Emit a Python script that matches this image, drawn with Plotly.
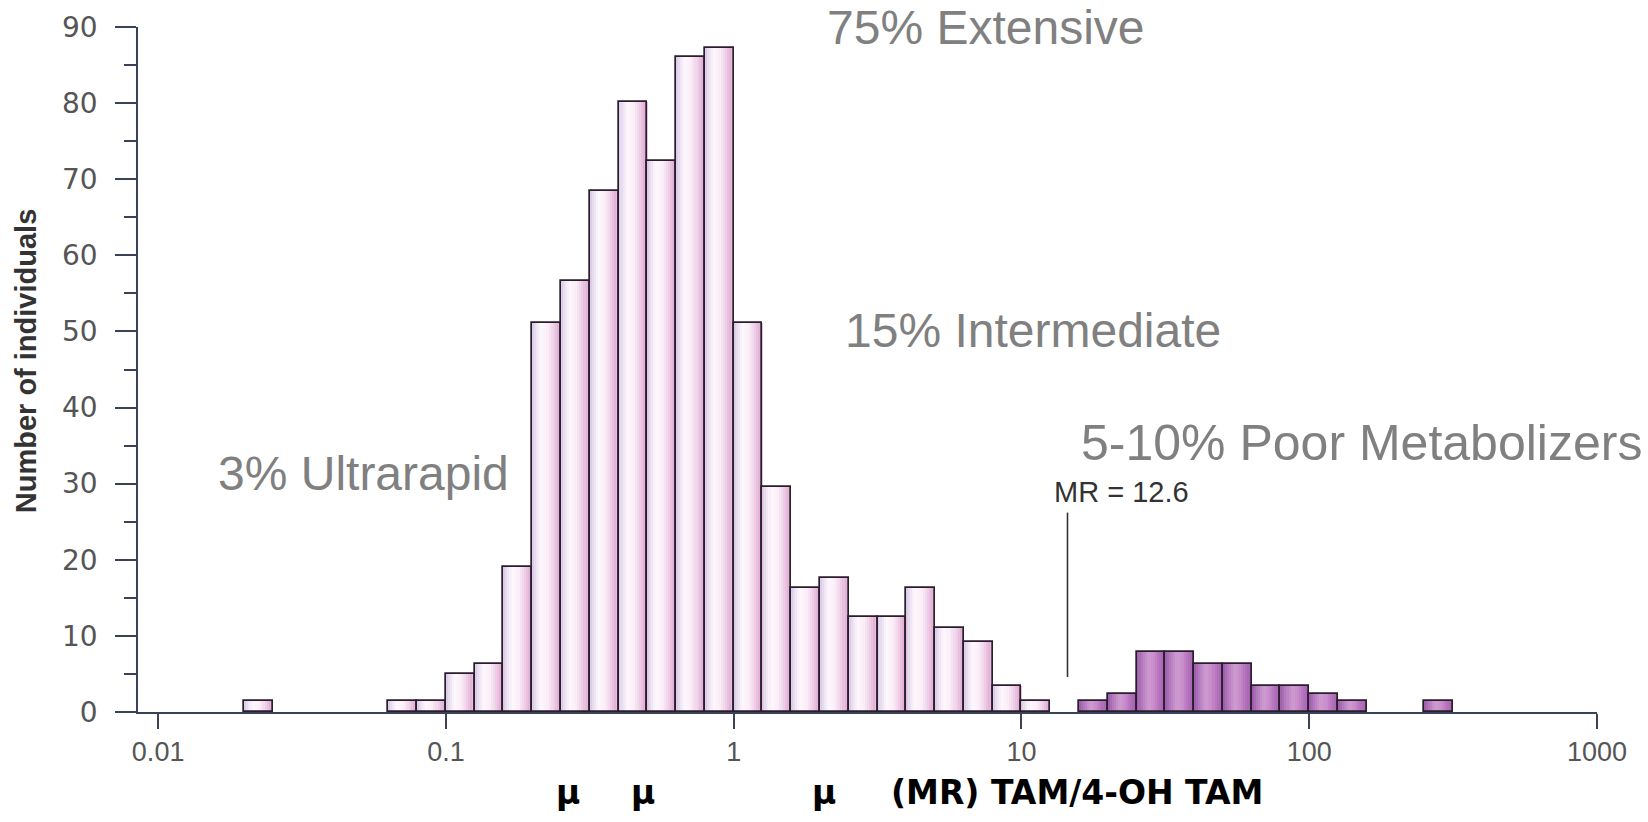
import math
import plotly.graph_objects as go

# ---------------- data ----------------
# histogram bins: lower edge in log10(MR), bin width 0.1 decade
bin_width_log = 0.1
pink_bin_start_log = [-1.7, -1.2, -1.1, -1.0, -0.9, -0.8, -0.7, -0.6, -0.5, -0.4,
                      -0.3, -0.2, -0.1, 0.0, 0.1, 0.2, 0.3, 0.4, 0.5, 0.6,
                      0.7, 0.8, 0.9, 1.0]
pink_counts = [1.5, 1.5, 1.5, 5.0, 6.3, 19.0, 51.1, 56.6, 68.5, 80.1,
               72.4, 86.1, 87.2, 51.1, 29.5, 16.3, 17.6, 12.5, 12.5, 16.3,
               11.0, 9.2, 3.4, 1.5]

purple_bin_start_log = [1.2, 1.3, 1.4, 1.5, 1.6, 1.7, 1.8, 1.9, 2.0, 2.1, 2.4]
purple_counts = [1.4, 2.4, 7.9, 7.9, 6.3, 6.3, 3.4, 3.4, 2.4, 1.4, 1.4]

x_tick_values = [0.01, 0.1, 1, 10, 100, 1000]
x_tick_labels = ["0.01", "0.1", "1", "10", "100", "1000"]

mr_marker_log = 1.16          # position of the vertical antimode marker
mr_marker_y = [4.6, 26.2]

FONT = "Liberation Sans, Arial, Helvetica, sans-serif"
WIDE = "DejaVu Sans, Verdana, sans-serif"

# ---------------- helpers ----------------
def hex_to_rgb(h):
    h = h.lstrip("#")
    return tuple(int(h[i:i + 2], 16) for i in (0, 2, 4))


def gradient(stops, t):
    for (t0, c0), (t1, c1) in zip(stops, stops[1:]):
        if t0 <= t <= t1:
            f = (t - t0) / (t1 - t0) if t1 > t0 else 0
            a, b = hex_to_rgb(c0), hex_to_rgb(c1)
            r = [round(a[i] + (b[i] - a[i]) * f) for i in range(3)]
            return "rgb(%d,%d,%d)" % tuple(r)
    return stops[-1][1]


pink_stops = [(0.0, "#D6C6E4"), (0.14, "#ECE2F2"), (0.3, "#FDF8FD"),
              (0.52, "#FBEFF8"), (0.72, "#F0D3EA"), (0.9, "#E3B3D7"), (1.0, "#EAC6E1")]
purple_stops = [(0.0, "#985AA8"), (0.2, "#B77CC0"), (0.42, "#CE9CD0"),
                (0.6, "#C88DCA"), (0.85, "#AE6AB8"), (1.0, "#A262AE")]

N_STRIPS = 14

fig = go.Figure()


def add_hist(starts, counts, stops):
    for k in range(N_STRIPS):
        t = (k + 0.5) / N_STRIPS
        fig.add_trace(go.Bar(
            x=[s + (k + 0.5) * bin_width_log / N_STRIPS for s in starts],
            y=counts,
            width=bin_width_log / N_STRIPS * 1.15,
            marker=dict(color=gradient(stops, t), line=dict(width=0)),
            showlegend=False, hoverinfo="skip"))
    fig.add_trace(go.Bar(
        x=[s + bin_width_log / 2 for s in starts],
        y=counts,
        width=bin_width_log,
        marker=dict(color="rgba(0,0,0,0)", line=dict(color="#2a1e2c", width=1.7)),
        showlegend=False, hoverinfo="skip"))


add_hist(pink_bin_start_log, pink_counts, pink_stops)
add_hist(purple_bin_start_log, purple_counts, purple_stops)

# vertical MR marker line
fig.add_trace(go.Scatter(
    x=[mr_marker_log, mr_marker_log], y=mr_marker_y, mode="lines",
    line=dict(color="#333333", width=1.6), showlegend=False, hoverinfo="skip"))

axis_col = "#3a4257"

fig.update_layout(
    width=1648, height=822,
    margin=dict(l=138, r=51, t=27, b=110),
    paper_bgcolor="white", plot_bgcolor="white",
    barmode="overlay", bargap=0,
    font=dict(family=FONT),
    xaxis=dict(
        range=[-2.07, 3.0],
        tickmode="array",
        tickvals=[math.log10(v) for v in x_tick_values],
        ticktext=x_tick_labels,
        ticks="outside", ticklen=15, tickwidth=1.5, tickcolor=axis_col,
        showline=True, linecolor=axis_col, linewidth=1.5,
        showgrid=False, zeroline=False,
        tickfont=dict(size=27, color="#555555", family=FONT),
    ),
    yaxis=dict(
        range=[0, 90], tick0=0, dtick=10,
        ticks="outside", ticklen=21, tickwidth=1.5, tickcolor=axis_col,
        minor=dict(dtick=5, ticks="outside", ticklen=12, tickwidth=1.5,
                   tickcolor=axis_col, showgrid=False),
        showline=True, linecolor=axis_col, linewidth=1.5,
        showgrid=False, zeroline=False,
        ticklabelstandoff=12,
        tickfont=dict(size=28, color="#555555", family=WIDE),
    ),
)

gray = "#808080"
big_labels = [
    ("75% Extensive", 0.317, 90.0, 48),
    ("15% Intermediate", 0.380, 50.1, 48),
    ("3% Ultrarapid", -1.80, 31.3, 48),
    ("5-10% Poor Metabolizers", 1.200, 35.3, 50),
]
for text, xl, yl, sz in big_labels:
    fig.add_annotation(x=xl, y=yl, xref="x", yref="y", text=text, showarrow=False,
                       xanchor="left", yanchor="middle",
                       font=dict(size=sz, color=gray, family=FONT))

fig.add_annotation(x=1.105, y=28.9, xref="x", yref="y", text="MR = 12.6",
                   showarrow=False, xanchor="left", yanchor="middle",
                   font=dict(size=29, color="#333333", family=FONT))

# x-axis title pieces (glyphs partially lost in the original)
x_title_pieces = [("μ", -0.575, "center"), ("μ", -0.315, "center"),
                  ("μ", 0.314, "center"), ("(MR) TAM/4-OH TAM", 0.540, "left")]
for text, xl, anc in x_title_pieces:
    fig.add_annotation(x=xl, y=-0.118, xref="x", yref="paper", text="<b>%s</b>" % text,
                       showarrow=False, xanchor=anc, yanchor="middle",
                       font=dict(size=33, color="#000000", family=WIDE))

fig.add_annotation(x=-0.077, y=0.513, xref="paper", yref="paper",
                   text="<b>Number of individuals</b>", textangle=-90,
                   showarrow=False, xanchor="center", yanchor="middle",
                   font=dict(size=29, color="#333333", family=FONT))

fig.write_html("out.html")
